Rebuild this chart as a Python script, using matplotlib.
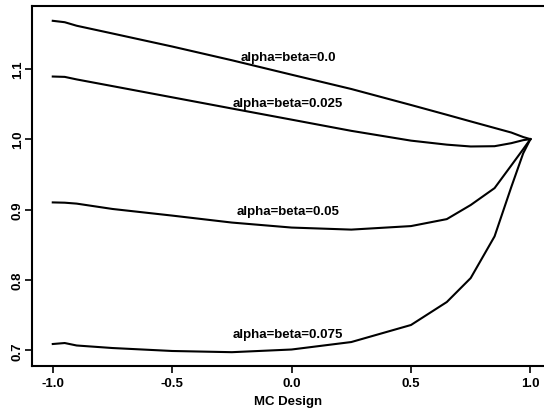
import numpy as np
import matplotlib.pyplot as plt

plt.rcParams['font.family'] = ['Liberation Sans', 'DejaVu Sans']
plt.rcParams['font.weight'] = 'bold'

# MC design grid (shared by all curves)
mc = [-1.0, -0.95, -0.9, -0.75, -0.5, -0.25, 0.0, 0.25, 0.5, 0.65, 0.75, 0.85, 0.92, 0.97, 1.0]

ab_000 = [1.168, 1.166, 1.161, 1.150, 1.1315, 1.112, 1.0915, 1.0712, 1.0485, 1.0346, 1.0252, 1.0159, 1.0094, 1.003, 1.0]
ab_025 = [1.0889, 1.0884, 1.0848, 1.0753, 1.0594, 1.0435, 1.0277, 1.0118, 0.9979, 0.9922, 0.9896, 0.990, 0.9943, 0.9986, 1.0]
ab_050 = [0.9102, 0.9098, 0.9085, 0.9009, 0.8915, 0.8816, 0.8745, 0.8716, 0.8766, 0.8865, 0.9065, 0.9305, 0.9627, 0.9858, 1.0]
ab_075 = [0.7092, 0.7106, 0.7071, 0.7035, 0.6993, 0.6976, 0.7014, 0.712, 0.7362, 0.7688, 0.8028, 0.862, 0.932, 0.980, 1.0]

labels = ['alpha=beta=0.0', 'alpha=beta=0.025', 'alpha=beta=0.05', 'alpha=beta=0.075']
label_y = [1.117, 1.052, 0.8975, 0.7234]

xticks = [-1.0, -0.5, 0.0, 0.5, 1.0]
yticks = [0.7, 0.8, 0.9, 1.0, 1.1]


def main():
    fig = plt.figure(figsize=(5.44, 4.10), dpi=100)
    ax = fig.add_axes([0.0588, 0.1049, 0.9412, 0.8780])

    for ys in (ab_000, ab_025, ab_050, ab_075):
        ax.plot(mc, ys, color='black', linewidth=1.5)

    for txt, yy in zip(labels, label_y):
        ax.text(-0.015, yy, txt, ha='center', va='center', fontsize=9.5, fontweight='bold')

    ax.set_xlim(-1.087, 1.057)
    ax.set_ylim(0.678, 1.189)
    ax.set_xticks(xticks)
    ax.set_xticklabels(['%.1f' % v for v in xticks])
    ax.set_yticks(yticks)
    ax.set_yticklabels(['%.1f' % v for v in yticks], rotation=90, va='center')
    ax.tick_params(direction='out', length=5, width=1.2, labelsize=9.5)
    ax.tick_params(axis='x', pad=3)
    ax.tick_params(axis='y', pad=1)
    ax.set_xlabel('MC Design', fontsize=9.5, fontweight='bold', labelpad=4)

    for side in ('left', 'bottom', 'top'):
        ax.spines[side].set_linewidth(1.5)
    ax.spines['right'].set_visible(False)

    fig.savefig('out.png', dpi=100)


if __name__ == "__main__":
    main()
